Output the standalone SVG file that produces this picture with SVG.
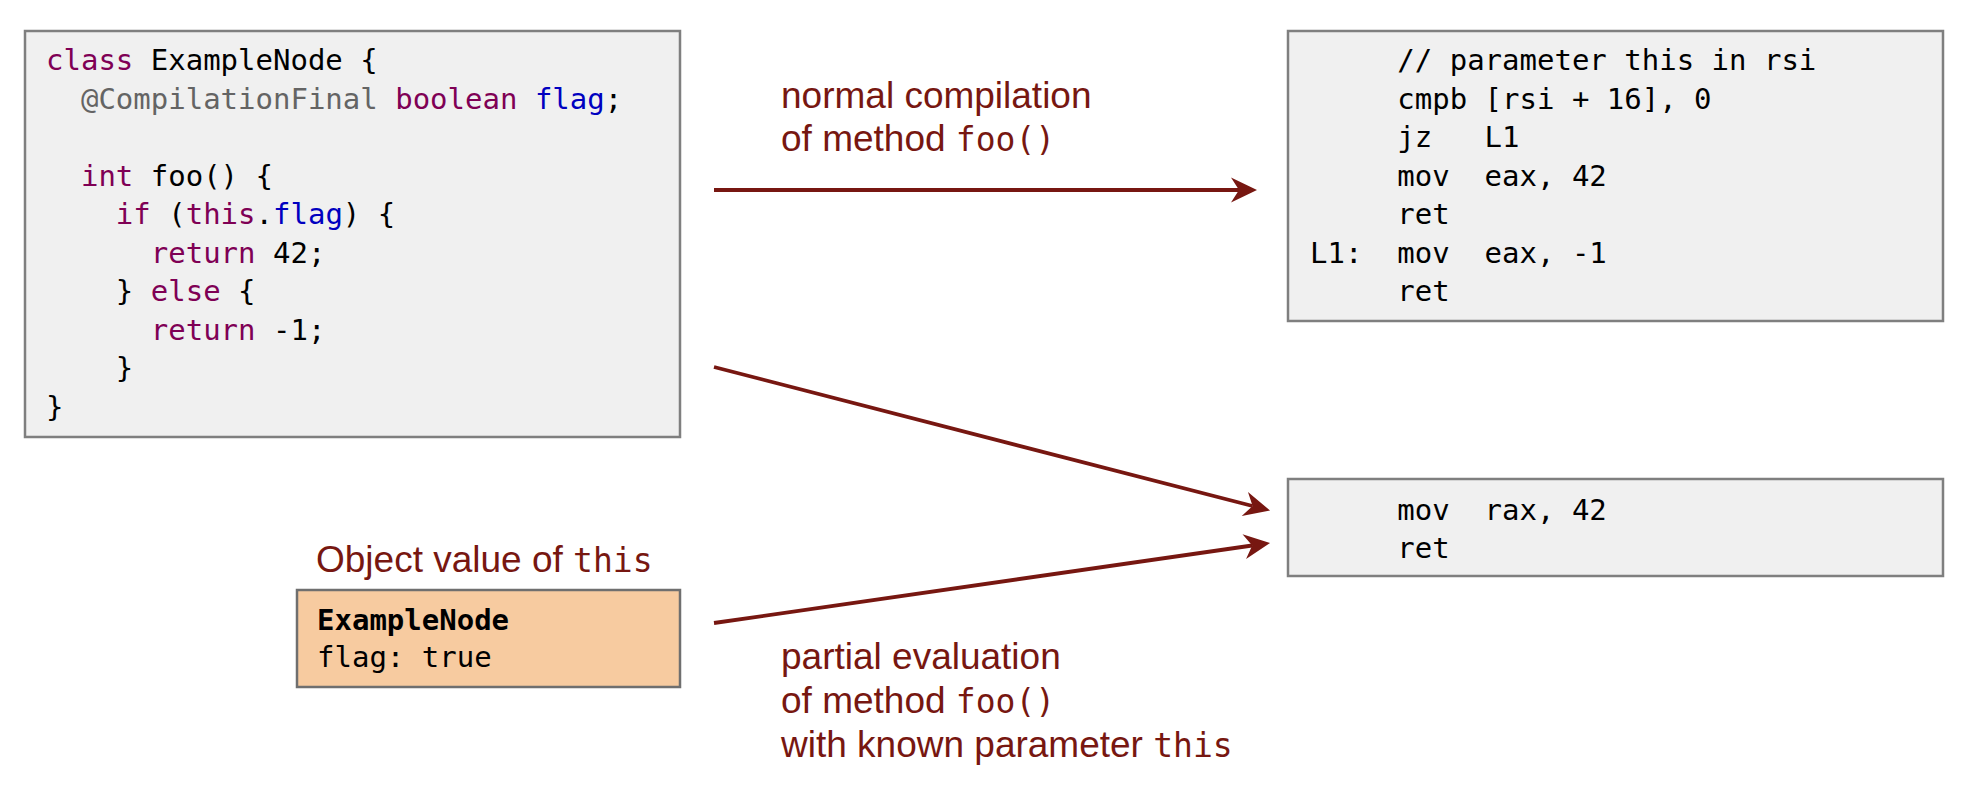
<svg xmlns="http://www.w3.org/2000/svg" width="1976" height="798" viewBox="0 0 1976 798">
<style>
.box{fill:#F0F0F0;stroke:#7F7F7F;stroke-width:2.5}
.obj{fill:#F7CBA0;stroke:#6F6F6F;stroke-width:2.5}
.code{font-family:"DejaVu Sans Mono","Liberation Mono",monospace;font-size:29px;fill:#000;white-space:pre}
.kw{fill:#7F0055}
.ann{fill:#646464}
.fld{fill:#0000C0}
.lbl{font-family:"Liberation Sans",Arial,sans-serif;font-size:37px;fill:#771711;white-space:pre}
.mono{font-family:"DejaVu Sans Mono","Liberation Mono",monospace;font-size:33px}
.conn{stroke:#771711;stroke-width:3.8;fill:none;marker-end:url(#ah)}
</style>
<defs>
<marker id="ah" markerUnits="userSpaceOnUse" viewBox="-10 -14 30 28" markerWidth="30" markerHeight="28" refX="0" refY="0" orient="auto">
<path d="M18,0 L-8,-12.5 L0,0 L-8,12.5 Z" fill="#771711"/>
</marker>
</defs>
<rect width="1976" height="798" fill="#fff"/>

<g id="source-code">
<rect class="box" x="25" y="31" width="655" height="406"/>
<text class="code" xml:space="preserve" x="46" y="70"><tspan class="kw">class</tspan> ExampleNode {</text>
<text class="code" xml:space="preserve" x="46" y="108.5">  <tspan class="ann">@CompilationFinal</tspan> <tspan class="kw">boolean</tspan> <tspan class="fld">flag</tspan>;</text>
<text class="code" xml:space="preserve" x="46" y="185.5">  <tspan class="kw">int</tspan> foo() {</text>
<text class="code" xml:space="preserve" x="46" y="224">    <tspan class="kw">if</tspan> (<tspan class="kw">this</tspan>.<tspan class="fld">flag</tspan>) {</text>
<text class="code" xml:space="preserve" x="46" y="262.5">      <tspan class="kw">return</tspan> 42;</text>
<text class="code" xml:space="preserve" x="46" y="301">    } <tspan class="kw">else</tspan> {</text>
<text class="code" xml:space="preserve" x="46" y="339.5">      <tspan class="kw">return</tspan> -1;</text>
<text class="code" xml:space="preserve" x="46" y="378">    }</text>
<text class="code" xml:space="preserve" x="46" y="416.5">}</text>
</g>

<g id="normal-asm">
<rect class="box" x="1288" y="31" width="655" height="290"/>
<text class="code" xml:space="preserve" x="1310" y="70">     // parameter this in rsi</text>
<text class="code" xml:space="preserve" x="1310" y="108.5">     cmpb [rsi + 16], 0</text>
<text class="code" xml:space="preserve" x="1310" y="147">     jz   L1</text>
<text class="code" xml:space="preserve" x="1310" y="185.5">     mov  eax, 42</text>
<text class="code" xml:space="preserve" x="1310" y="224">     ret</text>
<text class="code" xml:space="preserve" x="1310" y="262.5">L1:  mov  eax, -1</text>
<text class="code" xml:space="preserve" x="1310" y="301">     ret</text>
</g>

<g id="pe-asm">
<rect class="box" x="1288" y="479" width="655" height="97"/>
<text class="code" xml:space="preserve" x="1310" y="520">     mov  rax, 42</text>
<text class="code" xml:space="preserve" x="1310" y="558">     ret</text>
</g>

<g id="object-value">
<text class="lbl" xml:space="preserve" x="316" y="572">Object value of <tspan class="mono">this</tspan></text>
<rect class="obj" x="297" y="590" width="383" height="97"/>
<text class="code" xml:space="preserve" x="317" y="630" font-weight="bold">ExampleNode</text>
<text class="code" xml:space="preserve" x="317" y="667">flag: true</text>
</g>

<g id="connectors">
<line class="conn" x1="714" y1="190" x2="1239" y2="190"/>
<line class="conn" x1="714" y1="367" x2="1252.6" y2="506"/>
<line class="conn" x1="714" y1="623" x2="1252.2" y2="545.5"/>
</g>

<g id="labels">
<text class="lbl" x="781" y="108">normal compilation</text>
<text class="lbl" xml:space="preserve" x="781" y="151">of method <tspan class="mono">foo()</tspan></text>
<text class="lbl" x="781" y="669">partial evaluation</text>
<text class="lbl" xml:space="preserve" x="781" y="713">of method <tspan class="mono">foo()</tspan></text>
<text class="lbl" xml:space="preserve" x="781" y="757">with known parameter <tspan class="mono">this</tspan></text>
</g>
</svg>
